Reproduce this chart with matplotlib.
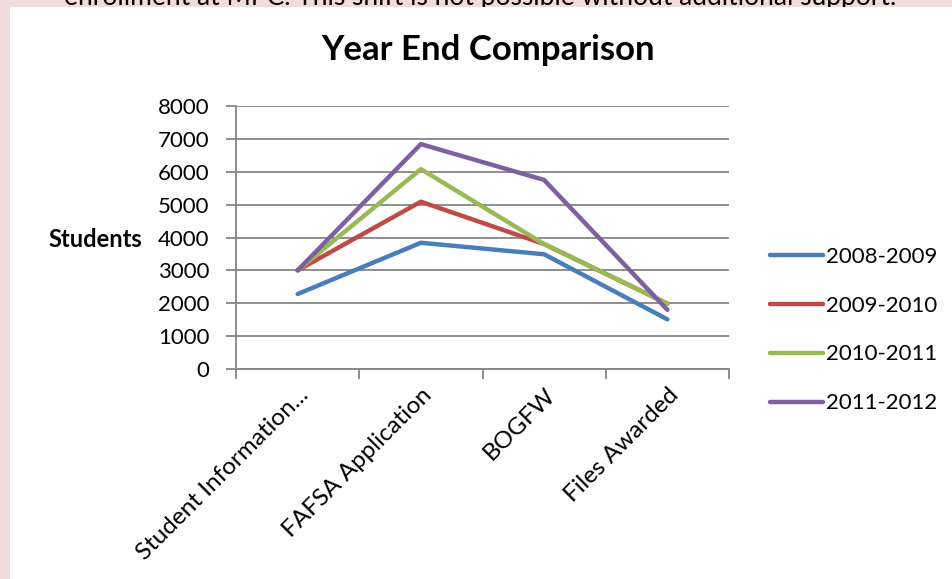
import matplotlib
matplotlib.use("Agg")
import matplotlib.pyplot as plt
import matplotlib.transforms as mtransforms
from matplotlib.patches import Rectangle
import numpy as np

categories = ["Student Information...", "FAFSA Application", "BOGFW", "Files Awarded"]
series_names = ["2008-2009", "2009-2010", "2010-2011", "2011-2012"]
s2008 = [2280, 3840, 3490, 1510]
s2009 = [3000, 5090, 3800, 1990]
s2010 = [3000, 6080, 3800, 1990]
s2011 = [3000, 6840, 5750, 1800]
colors = ["#4A7EBB", "#BE4B48", "#98B954", "#7D60A0"]
y_ticks = [0, 1000, 2000, 3000, 4000, 5000, 6000, 7000, 8000]

plt.rcParams['font.family'] = ['Lato', 'DejaVu Sans']

fig = plt.figure(figsize=(9.53, 5.79), dpi=100)
fig.patch.set_facecolor("#F2DCDB")

# cut-off text from the page behind the chart
fig.text(480 / 953, 1 - 5 / 579,
         "enrollment at MPC. This shift is not possible without additional support.",
         ha="center", va="baseline", fontsize=19, color="black", zorder=-2)
fig.patches.append(Rectangle((10 / 953, 0), 1, 1 - 7 / 579, transform=fig.transFigure,
                             facecolor="white", edgecolor="none", zorder=-1))

ax = fig.add_axes([236 / 953, 1 - 369 / 579, (729 - 236) / 953, (369 - 106) / 579])
ax.set_facecolor("white")

x = np.arange(len(categories))
for name, vals, c in zip(series_names, [s2008, s2009, s2010, s2011], colors):
    ax.plot(x, vals, color=c, lw=3.2, label=name, solid_capstyle="round",
            solid_joinstyle="round", zorder=3)

ax.set_xlim(-0.5, len(categories) - 0.5)
ax.set_ylim(0, 8000)
ax.set_yticks(y_ticks)
ax.set_yticklabels([str(v) for v in y_ticks], fontsize=16)
ax.grid(axis="y", color="#868686", lw=1.3)
ax.set_axisbelow(True)

ax.set_xticks(x)
ax.set_xticklabels(categories, fontsize=17.5, rotation=45, ha="right",
                   rotation_mode="anchor")
shift = mtransforms.ScaledTranslation(12 / 100, 0, fig.dpi_scale_trans)
for lab in ax.get_xticklabels():
    lab.set_transform(lab.get_transform() + shift)
ax.set_xticks(np.arange(-0.5, len(categories)), minor=True)
ax.tick_params(axis="x", which="major", length=0, pad=11)
ax.tick_params(axis="x", which="minor", length=7, color="#868686", width=1.3)
ax.tick_params(axis="y", length=7, color="#868686", width=1.3, pad=12)

for s in ["top", "right"]:
    ax.spines[s].set_visible(False)
for s in ["left", "bottom"]:
    ax.spines[s].set_color("#868686")
    ax.spines[s].set_linewidth(1.3)

fig.text(488 / 953, 1 - 50 / 579, "Year End Comparison", ha="center", va="center",
         fontsize=25, fontweight="bold")
fig.text(48 / 953, 1 - 240 / 579, "Students", ha="left", va="center",
         fontsize=17, fontweight="bold")

fig.legend(loc="center left", bbox_to_anchor=(770 / 953, 1 - 330 / 579), frameon=False,
           fontsize=16, handlelength=2.4, handletextpad=0.14, labelspacing=1.3,
           borderpad=0, borderaxespad=0)

fig.savefig("out.png", dpi=100, facecolor=fig.get_facecolor())
